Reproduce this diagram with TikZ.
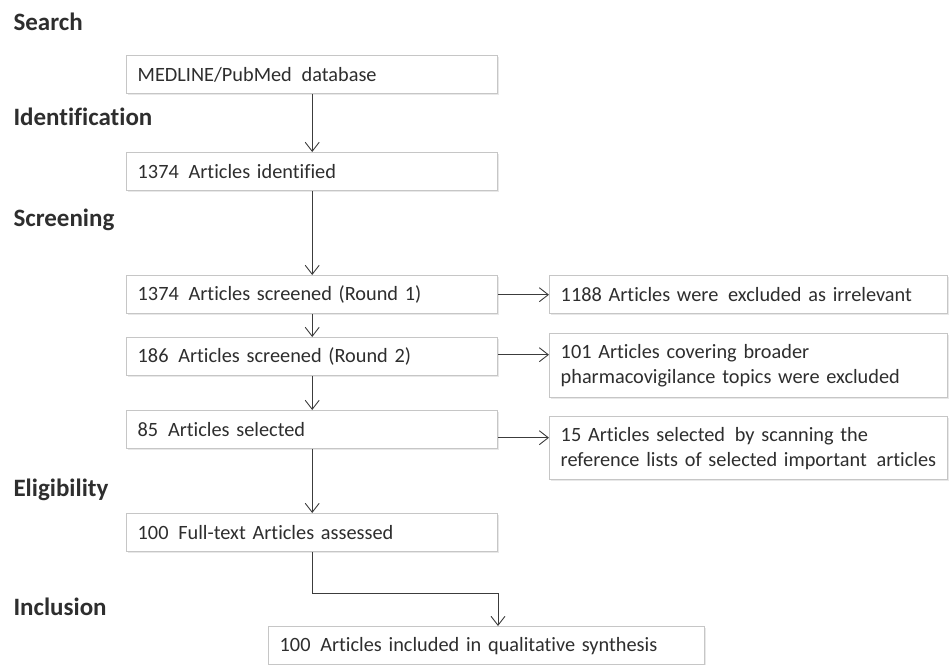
\documentclass[tikz,border=0pt]{standalone}
\usepackage{fontspec}
\setmainfont{Carlito}[Ligatures=NoCommon]
\usetikzlibrary{arrows.meta,positioning,calc,shadows}
\definecolor{Ink}{HTML}{2E2E2E}
\definecolor{Frame}{HTML}{C6C6C6}
\definecolor{Wire}{HTML}{3C3C3C}
\newcommand{\gap}{\hspace{3pt}}

\begin{document}
\begin{tikzpicture}[x=1pt,y=-1pt,
  flowbox/.style={draw=Frame,line width=1.4pt,fill=white,
    drop shadow={shadow xshift=1pt,shadow yshift=-1.5pt,opacity=0.18},
    anchor=north west,align=left,inner xsep=11pt,inner ysep=4pt,
    minimum height=38pt,font=\fontsize{20.3}{25}\selectfont,text=Ink},
  stepbox/.style={flowbox,minimum width=371pt,text width=349pt},
  sidebox/.style={flowbox,minimum width=398pt,text width=376pt},
  finalbox/.style={flowbox,minimum width=436pt,text width=414pt},
  stage/.style={anchor=west,font=\fontsize{25}{29}\selectfont\bfseries,text=Ink},
  flow/.style={Wire,line width=0.9pt,-{Straight Barb[length=9pt,width=14pt]}}]
\useasboundingbox (0,0) rectangle (949,664);
\foreach \n/\y/\s in {search/22/Search,ident/117/Identification,screen/220/Screening,elig/490/Eligibility,incl/607/Inclusion} {
  \node[stage] (\n) at (10,\y) {\s};
}
\node[stepbox] (b1) at (126,55) {MEDLINE/PubMed\gap{} database};
\node[stepbox] (b2) at (126,152) {1374\gap{} Articles identified};
\node[stepbox] (b3) at (126,275) {1374\gap{} Articles screened (Round 1)};
\node[stepbox] (b4) at (126,337) {186\gap{} Articles screened (Round 2)};
\node[stepbox] (b5) at (126,410) {85\gap{} Articles selected};
\node[stepbox] (b6) at (126,513) {100\gap{} Full-text Articles assessed};
\node[finalbox] (b7) at (268,626) {100\gap{} Articles included in qualitative synthesis};
\node[sidebox] (r1) at (549,275) {1188 Articles were\gap{} excluded as irrelevant};
\node[sidebox,minimum height=64pt] (r2) at (549,333) {101 Articles covering broader\\pharmacovigilance topics were excluded};
\node[sidebox,minimum height=63pt] (r3) at (549,416) {15 Articles selected\gap{} by scanning the\\reference lists of selected important\gap{} articles};
\draw[flow] (b1) -- (b2);
\draw[flow] (b2) -- (b3);
\draw[flow] (b3) -- (b4);
\draw[flow] (b4) -- (b5);
\draw[flow] (b5) -- (b6);
\draw[flow] (b3.east) -- (b3.east -| r1.west);
\draw[flow] ([yshift=2pt]b4.east) -- ([yshift=2pt]b4.east -| r2.west);
\draw[flow] ([yshift=-8pt]b5.east) -- ([yshift=-8pt]b5.east -| r3.west);
\coordinate (bend) at (498,593);
\draw[flow] (b6.south) |- (bend) -- (bend |- b7.north);
\end{tikzpicture}
\end{document}
